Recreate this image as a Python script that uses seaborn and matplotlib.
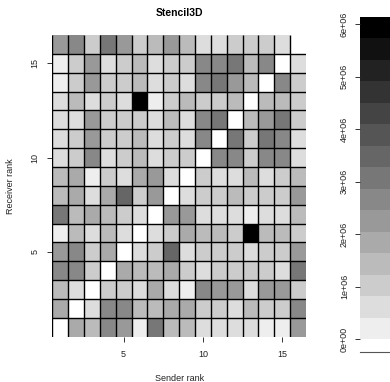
import numpy as np
import pandas as pd
import matplotlib
matplotlib.use("Agg")
import matplotlib.pyplot as plt
from matplotlib.colors import ListedColormap
from matplotlib.lines import Line2D
import seaborn as sns

nan = np.nan
# Bytes sent (in millions) from sender rank 1..16 to each receiver rank
recv_16 = [2.25, 2.65, 1.0, 3.05, 2.25, 1.0, 1.4, 2.25, 1.4, 0.6, 0.6, 1.0, 1.0, 1.0, 0.6, nan]
recv_15 = [0.2, 1.0, 2.25, 0.6, 1.0, 1.4, 0.6, 1.0, 1.0, 2.65, 2.65, 3.05, 1.4, 2.65, nan, 0.6]
recv_14 = [0.2, 1.0, 2.25, 1.0, 1.0, 1.4, 0.6, 1.0, 0.6, 2.65, 3.05, 2.25, 1.4, nan, 2.65, 1.0]
recv_13 = [0.6, 1.4, 0.6, 1.0, 0.6, 6.1, 0.2, 1.0, 1.4, 1.0, 1.0, 1.4, nan, 1.4, 1.4, 1.0]
recv_12 = [0.6, 0.6, 2.25, 1.0, 1.0, 1.0, 0.6, 1.4, 0.6, 2.65, 3.05, nan, 1.4, 2.25, 3.05, 1.0]
recv_11 = [0.6, 1.0, 2.25, 1.0, 1.0, 1.4, 0.6, 1.0, 0.6, 2.65, nan, 3.05, 1.0, 3.05, 2.65, 0.6]
recv_10 = [0.6, 1.0, 2.65, 0.6, 1.0, 1.4, 0.6, 1.0, 1.0, nan, 2.65, 2.65, 1.0, 2.65, 2.65, 0.6]
recv_09 = [1.4, 1.8, 0.2, 1.0, 0.6, 1.8, 2.25, 0.6, nan, 1.0, 0.6, 0.6, 1.4, 0.6, 1.0, 1.4]
recv_08 = [1.4, 1.8, 0.6, 1.8, 3.5, 1.0, 2.25, nan, 0.6, 1.0, 1.0, 1.4, 1.0, 1.0, 1.0, 2.25]
recv_07 = [3.05, 1.4, 1.8, 1.4, 1.0, 0.6, nan, 2.25, 2.25, 0.6, 0.6, 0.6, 0.2, 0.6, 0.6, 1.4]
recv_06 = [0.2, 1.4, 0.6, 1.4, 0.6, nan, 0.6, 1.0, 1.8, 1.4, 1.4, 1.0, 6.1, 1.4, 1.4, 1.0]
recv_05 = [2.25, 2.65, 1.0, 1.8, nan, 0.6, 1.0, 3.5, 0.6, 1.0, 1.0, 1.0, 0.6, 1.0, 1.0, 2.25]
recv_04 = [2.65, 2.65, 1.0, nan, 1.8, 1.4, 1.4, 1.8, 1.0, 0.6, 1.0, 1.0, 1.0, 1.0, 0.6, 3.05]
recv_03 = [1.4, 0.6, nan, 1.0, 1.0, 0.6, 1.8, 0.6, 0.2, 2.65, 2.25, 2.25, 0.6, 2.25, 2.25, 1.0]
recv_02 = [1.8, nan, 0.6, 2.65, 2.65, 1.4, 1.4, 1.8, 1.8, 1.0, 1.0, 0.6, 1.4, 1.0, 1.0, 2.65]
recv_01 = [nan, 1.8, 1.4, 2.65, 2.25, 0.2, 3.05, 1.4, 1.4, 0.6, 0.6, 0.6, 0.6, 0.2, 0.2, 2.25]

sender_ranks = list(range(1, 17))
receiver_ranks = list(range(16, 0, -1))
rows_top_down = [recv_16, recv_15, recv_14, recv_13, recv_12, recv_11, recv_10, recv_09,
                 recv_08, recv_07, recv_06, recv_05, recv_04, recv_03, recv_02, recv_01]
axis_ticks = [5, 10, 15]
cbar_ticks = [0, 1e6, 2e6, 3e6, 4e6, 5e6, 6e6]
cbar_labels = ["0e+00", "1e+06", "2e+06", "3e+06", "4e+06", "5e+06", "6e+06"]
zmin, zmax = 0.0, 6.14e6

df = pd.DataFrame(np.array(rows_top_down) * 1e6, index=receiver_ranks, columns=sender_ranks)

plt.rcParams["font.family"] = ["Liberation Sans", "DejaVu Sans"]

W, H = 390, 382
fig = plt.figure(figsize=(W / 100, H / 100), dpi=100)
ax = fig.add_axes([52.3 / W, 1 - 336.6 / H, (306 - 52.3) / W, (336.6 - 35) / H])
cax = fig.add_axes([360 / W, 1 - 339.3 / H, 40 / W, (339.3 - 16.7) / H])

greys = [str((15 - l) / 15) for l in range(1, 16)]
cmap = ListedColormap(greys)

sns.heatmap(df, ax=ax, cmap=cmap, vmin=zmin, vmax=zmax, cbar=True, cbar_ax=cax,
            linewidths=0, square=False)

n = len(sender_ranks)
ax.vlines(np.arange(0, n), 0, n, colors="black", linewidth=1.0)
ax.hlines(np.arange(1, n), 0, n, colors="black", linewidth=1.0)
ax.set_xlim(0, n)
ax.set_ylim(n, 0)

for s in ax.spines.values():
    s.set_visible(False)
ax.set_xticks([t - 0.5 for t in axis_ticks])
ax.set_xticklabels([str(t) for t in axis_ticks], rotation=0)
ax.set_yticks([n - t + 0.5 for t in axis_ticks])
ax.set_yticklabels([str(t) for t in axis_ticks], rotation=90, va="center")
ax.tick_params(axis="both", length=3.5, width=0.7, color="#333333", labelsize=6.5, labelcolor="#222222")
ax.tick_params(axis="x", pad=6.5)
ax.tick_params(axis="y", pad=5.5)
ax.set_xlabel("Sender rank", fontsize=6.5, color="#222222", labelpad=10.5)
ax.set_ylabel("Receiver rank", fontsize=6.5, color="#222222", labelpad=11.5)
ax.set_title("Stencil3D", fontsize=7.5, fontweight="bold", pad=14)

cb = ax.collections[0].colorbar
cb.outline.set_visible(False)
cb.set_ticks(cbar_ticks)
cb.set_ticklabels(cbar_labels)
cax.yaxis.set_ticks_position("left")
cax.tick_params(axis="y", length=3.5, width=0.7, color="#333333", labelsize=6.5,
                labelcolor="#222222", pad=4.5, labelrotation=90)
for lab in cax.get_yticklabels():
    lab.set_va("center")
cax.set_ylim(zmin, zmax)

fig.add_artist(Line2D([360 / W, 1.0], [1 - 351.7 / H, 1 - 351.7 / H], color="#555555", linewidth=0.8))

fig.savefig("out.png", dpi=100)
